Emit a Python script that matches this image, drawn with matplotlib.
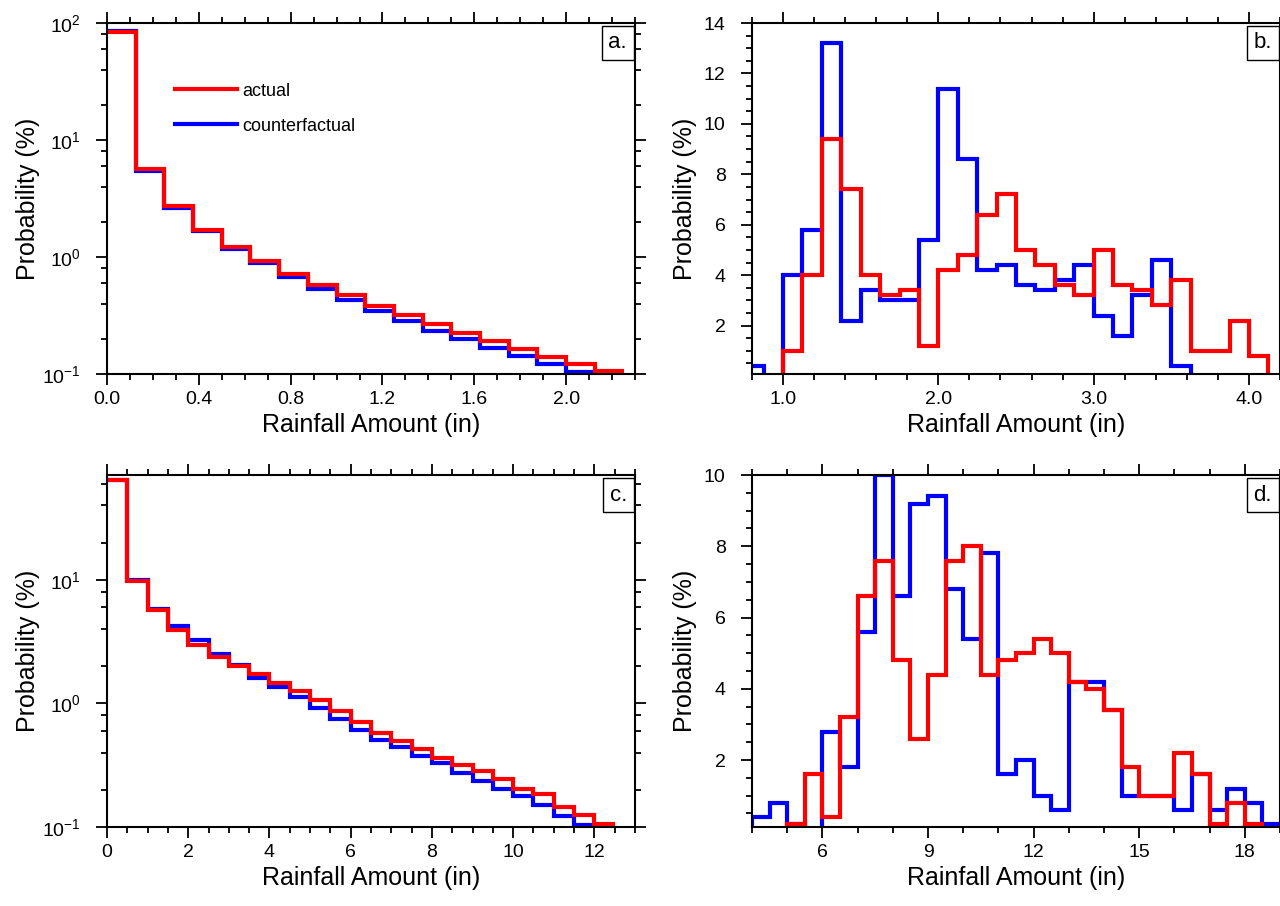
import numpy as np
import matplotlib
matplotlib.use("Agg")
import matplotlib.pyplot as plt
import matplotlib.ticker as mticker

plt.rcParams["font.family"] = ["Liberation Sans", "DejaVu Sans"]
plt.rcParams["mathtext.fontset"] = "custom"
plt.rcParams["mathtext.rm"] = "Liberation Sans"
plt.rcParams["mathtext.default"] = "regular"

# ---- data (probability %, per bin) ----
a_edges = np.arange(0, 2.375, 0.125)
a_actual = [83.8, 5.67, 2.71, 1.71, 1.22, 0.92, 0.72, 0.575, 0.47, 0.384,
            0.318, 0.265, 0.223, 0.191, 0.163, 0.140, 0.122, 0.107]
a_counter = [85.0, 5.45, 2.62, 1.66, 1.17, 0.88, 0.678, 0.535, 0.426, 0.346,
             0.284, 0.235, 0.199, 0.168, 0.143, 0.122, 0.105, 0.09]

b_edges = np.arange(0.75, 4.26, 0.125)
b_actual = [0, 0, 1.0, 4.0, 9.4, 7.4, 4.0, 3.2, 3.4, 1.2, 4.2, 4.8, 6.4, 7.2,
            5.0, 4.4, 3.6, 3.2, 5.0, 3.6, 3.4, 2.8, 3.8, 1.0, 1.0, 2.2, 0.8, 0]
b_counter = [0.4, 0, 4.0, 5.8, 13.2, 2.2, 3.4, 3.0, 3.0, 5.4, 11.4, 8.6, 4.2, 4.4,
             3.6, 3.4, 3.8, 4.4, 2.4, 1.6, 3.2, 4.6, 0.4, 0, 0, 0, 0, 0]

c_edges = np.arange(0, 12.75, 0.5)
c_actual = [63.8, 9.82, 5.69, 3.92, 2.95, 2.37, 2.02, 1.73, 1.47, 1.25,
            1.06, 0.87, 0.71, 0.58, 0.50, 0.426, 0.363, 0.319, 0.285, 0.246,
            0.203, 0.185, 0.146, 0.126, 0.106]
c_counter = [63.8, 10.0, 5.80, 4.23, 3.26, 2.51, 2.05, 1.62, 1.35, 1.135,
             0.925, 0.75, 0.607, 0.51, 0.443, 0.377, 0.327, 0.275, 0.234, 0.204,
             0.177, 0.151, 0.122, 0.1045, 0.09]

d_edges = np.arange(4.0, 19.01, 0.5)
d_actual = [0, 0, 0.2, 1.6, 0.4, 3.2, 6.6, 7.6, 4.8, 2.6, 4.4, 7.6, 8.0, 4.4, 4.8,
            5.0, 5.4, 5.0, 4.2, 4.0, 3.4, 1.8, 1.0, 1.0, 2.2, 1.6, 0.2, 0.8, 0.2, 0]
d_counter = [0.4, 0.8, 0.2, 0, 2.8, 1.8, 5.6, 10.0, 6.6, 9.2, 9.4, 6.8, 5.4, 7.8, 1.6,
             2.0, 1.0, 0.6, 4.2, 4.2, 3.4, 1.0, 1.0, 1.0, 0.6, 1.6, 0.6, 1.2, 0.8, 0.2]

W, H = 1280, 906
fig = plt.figure(figsize=(W / 100, H / 100), dpi=100)


def box(x0, top, x1, bot):
    return [x0 / W, 1 - bot / H, (x1 - x0) / W, (bot - top) / H]


axa = fig.add_axes(box(107, 23, 635, 374))
axb = fig.add_axes(box(752, 23, 1280, 374))
axc = fig.add_axes(box(107, 475, 635, 827))
axd = fig.add_axes(box(752, 475, 1280, 827))

LW = 3.0


def draw(ax, edges, counter, actual, base):
    ax.stairs(counter, edges, baseline=base, color="#0000ff", lw=LW,
              label="counterfactual", zorder=2)
    ax.stairs(actual, edges, baseline=base, color="#ff0000", lw=LW,
              label="actual", zorder=3)


draw(axa, a_edges, a_counter, a_actual, None)
draw(axb, b_edges, b_counter, b_actual, 0)
draw(axc, c_edges, c_counter, c_actual, None)
draw(axd, d_edges, d_counter, d_actual, 0)

logfmt = mticker.FuncFormatter(lambda v, p: r"$10^{%d}$" % round(np.log10(v)))

axa.set_yscale("log")
axa.set_ylim(0.1, 100)
axa.set_xlim(0, 2.3)
axa.xaxis.set_major_locator(mticker.MultipleLocator(0.4))
axa.xaxis.set_minor_locator(mticker.MultipleLocator(0.1))
axa.xaxis.set_major_formatter(mticker.FormatStrFormatter("%.1f"))

axc.set_yscale("log")
axc.set_ylim(0.1, 70.5)
axc.set_xlim(0, 13)
axc.xaxis.set_major_locator(mticker.MultipleLocator(2))
axc.xaxis.set_minor_locator(mticker.MultipleLocator(0.5))

for ax in (axa, axc):
    ax.yaxis.set_major_locator(mticker.LogLocator(base=10, numticks=10))
    ax.yaxis.set_minor_locator(mticker.LogLocator(base=10, subs=(2, 4, 6, 8), numticks=10))
    ax.yaxis.set_major_formatter(logfmt)
    ax.yaxis.set_minor_formatter(mticker.NullFormatter())

axb.set_xlim(0.8, 4.2)
axb.set_ylim(0.08, 14)
axb.xaxis.set_major_locator(mticker.MultipleLocator(1.0))
axb.xaxis.set_minor_locator(mticker.MultipleLocator(0.2))
axb.xaxis.set_major_formatter(mticker.FormatStrFormatter("%.1f"))

axd.set_xlim(4, 19)
axd.set_ylim(0.12, 10)
axd.xaxis.set_major_locator(mticker.MultipleLocator(3))
axd.xaxis.set_minor_locator(mticker.MultipleLocator(1))

for ax in (axb, axd):
    ax.yaxis.set_major_locator(mticker.MultipleLocator(2))
    ax.yaxis.set_minor_locator(mticker.MultipleLocator(0.5))

for ax, lab in zip((axa, axb, axc, axd), ("a.", "b.", "c.", "d.")):
    for s in ax.spines.values():
        s.set_linewidth(1.5)
        s.set_zorder(5)
    ax.tick_params(which="both", direction="out", top=True, right=True,
                   width=1.3, labelsize=14)
    ax.tick_params(axis="x", which="both", pad=4)
    ax.tick_params(axis="y", which="both", pad=11)
    ax.tick_params(which="major", length=8)
    ax.tick_params(which="minor", length=4.5)
    ax.set_xlabel("Rainfall Amount (in)", fontsize=18, labelpad=4)
    ax.set_ylabel("Probability (%)", fontsize=18)
    ax.text(0.985, 0.973, lab, transform=ax.transAxes, ha="right", va="top",
            fontsize=16, zorder=6,
            bbox=dict(boxstyle="square,pad=0.3", fc="white", ec="black", lw=1))

axa.yaxis.set_label_coords(-0.127, 0.5)
axc.yaxis.set_label_coords(-0.127, 0.5)
axb.yaxis.set_label_coords(-0.104, 0.5)
axd.yaxis.set_label_coords(-0.104, 0.5)

h, l = axa.get_legend_handles_labels()
axa.legend(h[::-1], l[::-1], loc="center left", bbox_to_anchor=(0.129, 0.756),
           frameon=False, fontsize=13, handlelength=3.4, handletextpad=0.3,
           labelspacing=1.0, borderpad=0, borderaxespad=0)

fig.savefig("out.png", dpi=100)
